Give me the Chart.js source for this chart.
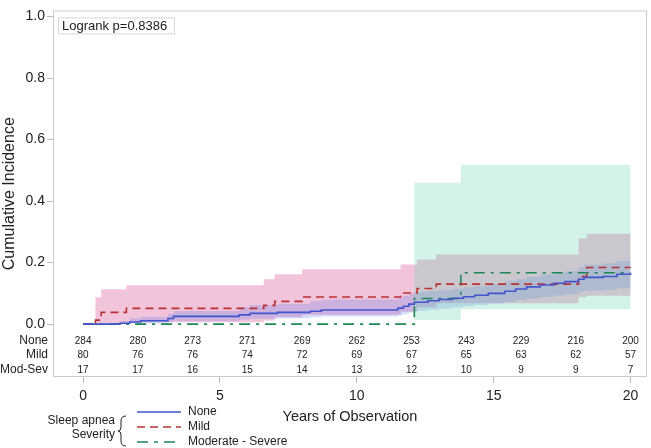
<!DOCTYPE html>
<html lang="en">
<head>
<meta charset="UTF-8">
<title>Cumulative Incidence by Sleep Apnea Severity</title>
<script src="https://cdn.jsdelivr.net/npm/chart.js"></script>
<style>
    body { margin: 0; background: #fff; }
</style>
</head>
<body>

<canvas id="chartKM" width="651" height="448"></canvas>

<script>
    // Axis ticks
    let xTicks = [0, 5, 10, 15, 20];
    let yTicks = [0, 0.2, 0.4, 0.6, 0.8, 1.0];

    // Number at risk
    let riskTimes = [0, 2, 4, 6, 8, 10, 12, 14, 16, 18, 20];
    let riskNone = [284, 280, 273, 271, 269, 262, 253, 243, 229, 216, 200];
    let riskMild = [80, 76, 76, 74, 72, 69, 67, 65, 63, 62, 57];
    let riskModSev = [17, 17, 16, 15, 14, 13, 12, 10, 9, 9, 7];

    // None
    let noneT  = [0, 1.35, 1.7, 2.1, 3.1, 3.3, 5.7, 6.1, 7.1, 8.3, 8.7, 11.5, 11.7, 11.9, 12.1, 12.6, 13.0, 13.5, 13.9, 14.3, 14.8, 15.4, 15.8, 16.2, 16.7, 17.2, 17.6, 18.1, 18.3, 19.0, 19.5, 20];
    let noneY  = [0, 0.003, 0.007, 0.011, 0.018, 0.025, 0.030, 0.035, 0.038, 0.042, 0.046, 0.052, 0.058, 0.065, 0.071, 0.076, 0.080, 0.084, 0.089, 0.094, 0.100, 0.107, 0.114, 0.121, 0.127, 0.133, 0.138, 0.146, 0.152, 0.155, 0.162, 0.165];
    let noneLo = [0, 0, 0.001, 0.002, 0.006, 0.010, 0.014, 0.017, 0.019, 0.022, 0.025, 0.029, 0.033, 0.038, 0.043, 0.047, 0.050, 0.054, 0.058, 0.062, 0.067, 0.072, 0.078, 0.083, 0.088, 0.093, 0.097, 0.104, 0.109, 0.111, 0.117, 0.119];
    let noneHi = [0, 0.010, 0.018, 0.024, 0.034, 0.043, 0.055, 0.062, 0.066, 0.074, 0.080, 0.086, 0.092, 0.098, 0.104, 0.108, 0.110, 0.114, 0.119, 0.124, 0.131, 0.139, 0.146, 0.154, 0.161, 0.167, 0.173, 0.186, 0.193, 0.198, 0.205, 0.208];

    // Mild
    let mildT  = [0, 0.45, 0.66, 1.58, 6.6, 7.0, 8.0, 11.6, 12.2, 12.9, 18.1, 18.4, 20];
    let mildY  = [0, 0.013, 0.038, 0.051, 0.061, 0.074, 0.088, 0.101, 0.116, 0.130, 0.155, 0.184, 0.184];
    let mildLo = [0, 0, 0.002, 0.006, 0.012, 0.022, 0.030, 0.040, 0.055, 0.068, 0.087, 0.092, 0.092];
    let mildHi = [0, 0.087, 0.113, 0.126, 0.146, 0.162, 0.178, 0.194, 0.210, 0.226, 0.278, 0.294, 0.294];

    // Moderate - Severe
    let modT  = [0, 12.1, 13.8, 20];
    let modY  = [0, 0.083, 0.167, 0.167];
    let modLo = [0, 0.013, 0.048, 0.048];
    let modHi = [0, 0.46, 0.518, 0.518];

    function pts(t, v) {
        return t.map((x, i) => ({ x: x, y: v[i] }));
    }

    let blue = "rgb(65, 85, 205)";
    let red = "rgb(185, 50, 50)";
    let green = "rgb(30, 135, 85)";
    let font = "'Liberation Sans', Arial, sans-serif";

    function curve(label, data, color, dash) {
        return { label: label, data: data, borderColor: color, borderWidth: 1.6, borderDash: dash,
                 stepped: true, pointRadius: 0, fill: false };
    }
    function band(data, color, fill) {
        return { label: "", data: data, borderWidth: 0, borderColor: "rgba(0,0,0,0)", backgroundColor: color,
                 stepped: true, pointRadius: 0, fill: fill };
    }

    // extra drawing: frame, logrank box, risk table, legend
    const extras = {
        id: "extras",
        afterDraw(chart) {
            let ctx = chart.ctx;
            let a = chart.chartArea;
            let xs = chart.scales.x;
            ctx.save();

            ctx.strokeStyle = "#c5cccc";
            ctx.lineWidth = 1;
            ctx.strokeRect(a.left + 0.5, a.top + 0.5, a.right - a.left - 1, a.bottom - a.top - 1);

            // logrank
            ctx.strokeStyle = "#d4d8d8";
            ctx.strokeRect(a.left + 5.5, a.top + 7.5, 116, 16);
            ctx.fillStyle = "#222";
            ctx.font = "13px " + font;
            ctx.textBaseline = "middle";
            ctx.textAlign = "left";
            ctx.fillText("Logrank p=0.8386", a.left + 9, a.top + 16);

            // risk table
            let rows = [["None", riskNone, 36], ["Mild", riskMild, 22], ["Mod-Sev", riskModSev, 7]];
            rows.forEach(r => {
                let y = a.bottom - r[2];
                ctx.font = "12px " + font;
                ctx.textAlign = "right";
                ctx.fillText(r[0], a.left - 5, y);
                ctx.font = "10px " + font;
                ctx.textAlign = "center";
                r[1].forEach((n, i) => ctx.fillText(String(n), xs.getPixelForValue(riskTimes[i]), y));
            });

            // legend
            ctx.font = "12px " + font;
            ctx.textAlign = "right";
            ctx.fillText("Sleep apnea", 115, 421);
            ctx.fillText("Severity", 115, 435);
            ctx.strokeStyle = "#222";
            ctx.lineWidth = 1;
            ctx.beginPath();
            ctx.moveTo(126, 416);
            ctx.quadraticCurveTo(121, 416, 121, 421);
            ctx.lineTo(121, 427);
            ctx.quadraticCurveTo(121, 431, 118, 431);
            ctx.quadraticCurveTo(121, 431, 121, 435);
            ctx.lineTo(121, 441);
            ctx.quadraticCurveTo(121, 446, 126, 446);
            ctx.stroke();

            let items = [["None", blue, []], ["Mild", red, [8, 5]], ["Moderate - Severe", green, [11, 6, 4, 6]]];
            items.forEach((it, i) => {
                let y = 412 + i * 15;
                ctx.strokeStyle = it[1];
                ctx.lineWidth = 1.5;
                ctx.setLineDash(it[2]);
                ctx.beginPath();
                ctx.moveTo(137, y);
                ctx.lineTo(181, y);
                ctx.stroke();
                ctx.setLineDash([]);
                ctx.textAlign = "left";
                ctx.fillText(it[0], 188, y);
            });
            ctx.restore();
        }
    };

    new Chart(document.getElementById("chartKM"), {
        type: "line",
        data: {
            datasets: [
                curve("None", pts(noneT, noneY), blue, []),
                curve("Mild", pts(mildT, mildY), red, [8, 5]),
                curve("Moderate - Severe", pts(modT, modY), green, [11, 6, 3, 6]),
                band(pts(modT, modHi), "rgba(94, 212, 169, 0.27)", "+1"),
                band(pts(modT, modLo), "rgba(0,0,0,0)", false),
                band(pts(noneT, noneHi), "rgba(90, 120, 230, 0.25)", "+1"),
                band(pts(noneT, noneLo), "rgba(0,0,0,0)", false),
                band(pts(mildT, mildHi), "rgba(222, 108, 168, 0.4)", "+1"),
                band(pts(mildT, mildLo), "rgba(0,0,0,0)", false)
            ]
        },
        options: {
            responsive: false,
            animation: false,
            events: [],
            layout: { padding: { top: 9, right: 4, left: 0, bottom: 0 } },
            plugins: { legend: { display: false }, tooltip: { enabled: false } },
            scales: {
                x: {
                    type: "linear",
                    min: -1.1,
                    max: 20.6,
                    afterBuildTicks: s => { s.ticks = xTicks.map(v => ({ value: v })); },
                    afterFit: s => { s.height = 71; },
                    grid: { drawOnChartArea: false, tickLength: 6, color: "#b5bcbc" },
                    border: { display: false },
                    ticks: { padding: 5, color: "#222", font: { family: font, size: 14 }, maxRotation: 0 },
                    title: { display: true, text: "Years of Observation", color: "#222",
                             font: { family: font, size: 14.5 }, padding: { top: 0, bottom: 22 } }
                },
                y: {
                    type: "linear",
                    min: -0.172,
                    max: 1.02,
                    afterBuildTicks: s => { s.ticks = yTicks.map(v => ({ value: v })); },
                    afterFit: s => { s.width = 53; },
                    grid: { drawOnChartArea: false, tickLength: 6, color: "#b5bcbc" },
                    border: { display: false },
                    ticks: { padding: 2, color: "#222", font: { family: font, size: 14 },
                             callback: v => v.toFixed(1) },
                    title: { display: true, text: "Cumulative Incidence", color: "#222",
                             font: { family: font, size: 16 }, padding: { top: 0, bottom: 0 } }
                }
            }
        },
        plugins: [extras]
    });
</script>

</body>
</html>
